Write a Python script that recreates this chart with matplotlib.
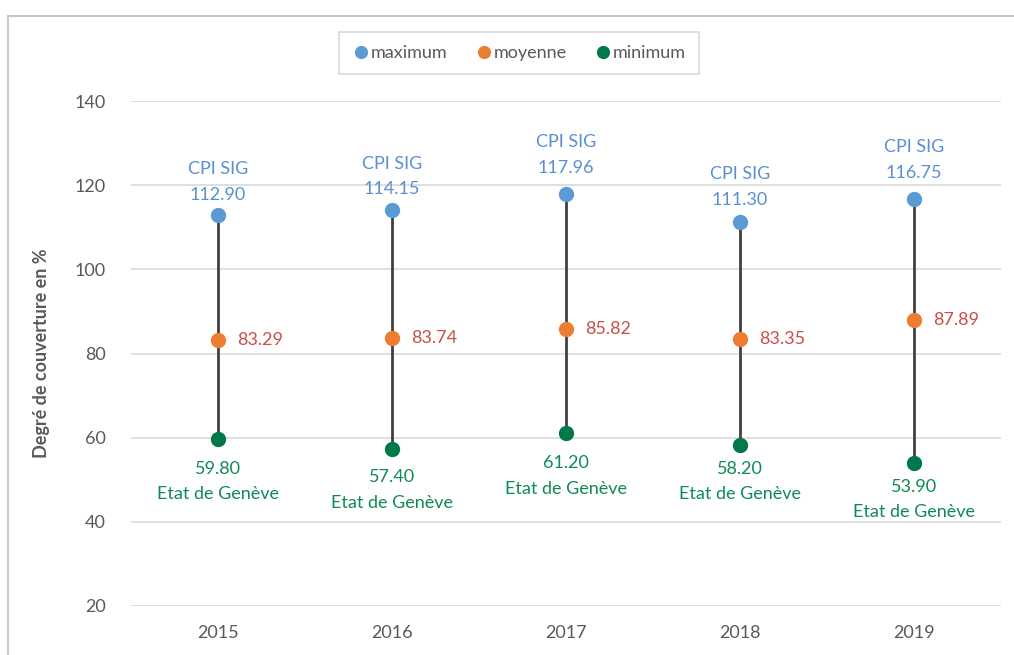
import matplotlib.pyplot as plt
from matplotlib.lines import Line2D

years = ["2015", "2016", "2017", "2018", "2019"]
maximum = [112.90, 114.15, 117.96, 111.30, 116.75]
moyenne = [83.29, 83.74, 85.82, 83.35, 87.89]
minimum = [59.80, 57.40, 61.20, 58.20, 53.90]
max_name = "CPI SIG"
min_name = "Etat de Genève"
y_ticks = [20, 40, 60, 80, 100, 120, 140]

# label offsets in points (styling)
max_off = [9, 9, 13, 10, 13]
min_off = [-16, -15, -16, -11, -11]

plt.rcParams['font.family'] = ['Lato', 'DejaVu Sans']

fig = plt.figure(figsize=(10.14, 6.55), dpi=100)
ax = fig.add_axes([131/1014, 1 - 606/655, 870/1014, 505/655])

x = list(range(len(years)))
c_max, c_mean, c_min = "#5B9BD5", "#ED7D31", "#00784A"
lab_max, lab_mean, lab_min = "#5B8FD0", "#C9504A", "#108A55"

for i in x:
    ax.plot([i, i], [minimum[i], maximum[i]], color="#404040", lw=2, zorder=2)
ax.scatter(x, maximum, s=100, color=c_max, zorder=3, label="maximum")
ax.scatter(x, moyenne, s=100, color=c_mean, zorder=3, label="moyenne")
ax.scatter(x, minimum, s=100, color=c_min, zorder=3, label="minimum")

fs = 13
for i in x:
    ax.annotate(f"{max_name}\n{maximum[i]:.2f}", (i, maximum[i]),
                xytext=(0, max_off[i]), textcoords="offset points",
                ha="center", va="bottom", fontsize=fs, color=lab_max,
                linespacing=1.75)
    ax.annotate(f"{moyenne[i]:.2f}", (i, moyenne[i]),
                xytext=(14, 0), textcoords="offset points",
                ha="left", va="center", fontsize=fs, color=lab_mean)
    ax.annotate(f"{minimum[i]:.2f}\n{min_name}", (i, minimum[i]),
                xytext=(0, min_off[i]), textcoords="offset points",
                ha="center", va="top", fontsize=fs, color=lab_min,
                linespacing=1.75)

ax.set_xlim(-0.5, len(years) - 0.5)
ax.set_ylim(20, 140)
ax.set_yticks(y_ticks)
ax.set_xticks(x)
ax.set_xticklabels(years)
ax.grid(axis="y", color="#D9D9D9", lw=1.2)
ax.set_axisbelow(True)
for s in ax.spines.values():
    s.set_visible(False)
ax.tick_params(axis="both", length=0, labelsize=13, colors="#595959")
ax.tick_params(axis="y", pad=18)
ax.tick_params(axis="x", pad=14)
ax.set_ylabel("Degré de couverture en %", fontsize=13, color="#595959",
              fontweight="bold", labelpad=18)

handles = [Line2D([], [], marker="o", ls="", color=c, markersize=8.5)
           for c in (c_max, c_mean, c_min)]
leg = fig.legend(handles, ["maximum", "moyenne", "minimum"], loc="center",
                 bbox_to_anchor=(519/1014, 1 - 53/655), ncol=3, frameon=True,
                 fancybox=False, fontsize=13, handletextpad=0.05,
                 columnspacing=1.5, borderpad=0.7, handlelength=1.0)
leg.get_frame().set_edgecolor("#D0D0D0")
leg.get_frame().set_linewidth(1.2)
for t in leg.get_texts():
    t.set_color("#595959")

# outer chart border (left and top)
fig.add_artist(Line2D([8/1014, 8/1014], [0, 1 - 16/655], color="#C8C8C8", lw=1.5))
fig.add_artist(Line2D([8/1014, 1], [1 - 16/655, 1 - 16/655], color="#C8C8C8", lw=1.5))

fig.savefig("out.png", dpi=100)
